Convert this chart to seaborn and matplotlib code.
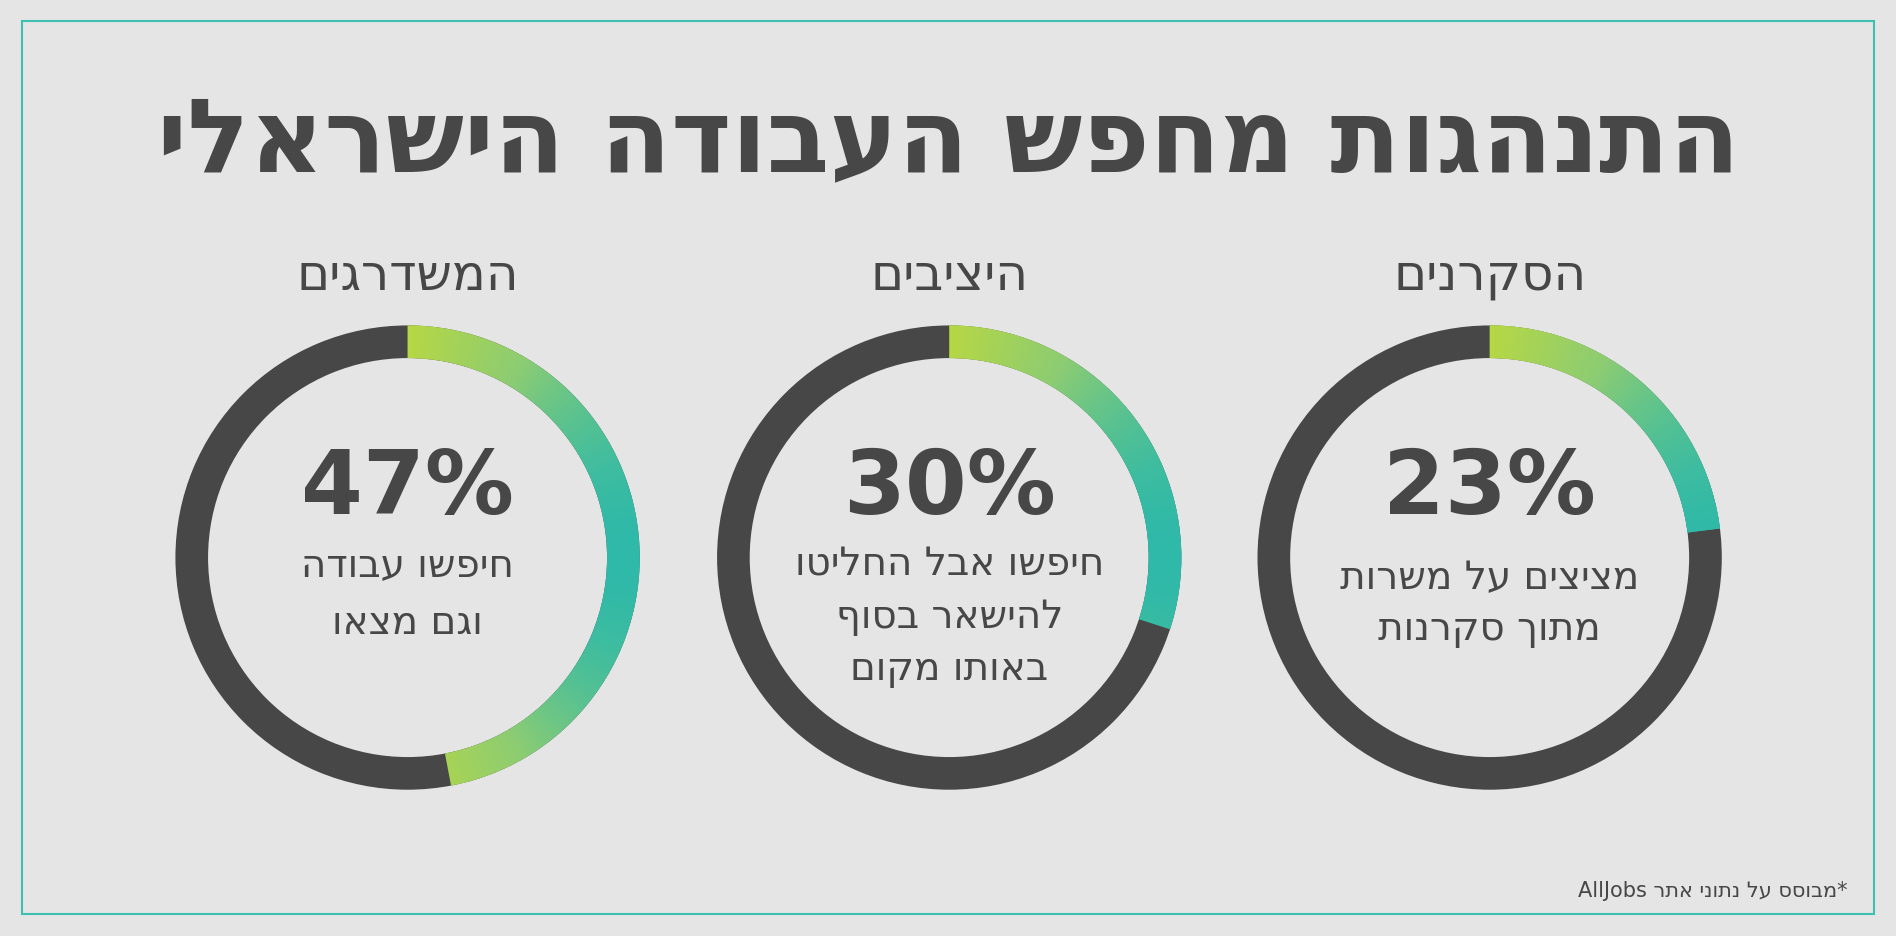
import matplotlib
matplotlib.use("Agg")
import matplotlib.pyplot as plt
import seaborn as sns
import numpy as np
from matplotlib.patches import Wedge, Rectangle
from matplotlib.colors import LinearSegmentedColormap

title = "התנהגות מחפש העבודה הישראלי"
groups = ["המשדרגים", "היציבים", "הסקרנים"]
values = [47, 30, 23]
descs = [["חיפשו עבודה", "וגם מצאו"],
         ["חיפשו אבל החליטו", "להישאר בסוף", "באותו מקום"],
         ["מציצים על משרות", "מתוך סקרנות"]]
footnote_he = "מבוסס על נתוני אתר"
footnote_en = "AllJobs"

def rtl(s):
    return s[::-1]

sns.set_theme(style="white")
plt.rcParams['font.family'] = ['DejaVu Sans']
BG = "#e5e5e5"; DARK = "#474747"
fig = plt.figure(figsize=(18.96, 9.37), dpi=100, facecolor=BG)
ax = fig.add_axes([0, 0, 1, 1])
ax.set_xlim(0, 1568); ax.set_ylim(775, 0); ax.set_aspect('equal'); ax.axis('off')
ax.set_facecolor(BG)
ax.add_patch(Rectangle((18, 18), 1532, 739, fill=False, ec="#3dbfb1", lw=1.5))

ax.text(784, 118, rtl(title), ha='center', va='center', fontsize=74, fontweight='heavy', color=DARK)
cmap = LinearSegmentedColormap.from_list("g", ["#b6d744", "#8dcc72", "#2fb9a8"])
centers = [337, 785, 1232]
cy = 462; R = 192; W = 27
for cx, g, v, d in zip(centers, groups, values, descs):
    ax.text(cx, 228, rtl(g), ha='center', va='center', fontsize=36, color=DARK)
    ax.add_patch(Wedge((cx, cy), R, 0, 360, width=W, color=DARK, lw=0))
    n = 200
    end = 360 * v / 100
    edges = np.linspace(0, end, n + 1)
    for a0, a1 in zip(edges[:-1], edges[1:]):
        am = np.radians((a0 + a1) / 2)
        t = np.sin(am)
        th1 = -90 + a0
        th2 = -90 + a1 + (0.4 if a1 < end else 0)
        ax.add_patch(Wedge((cx, cy), R, th1, th2, width=W, color=cmap(t), lw=0))
    ax.text(cx, 405, f"{v}%", ha='center', va='center', fontsize=64, fontweight='heavy', color=DARK)
    ys = [467, 515] if len(d) == 2 else [467, 510, 553]
    if cx == 1232:
        ys = [478, 520]
    for y, line in zip(ys, d):
        ax.text(cx, y, rtl(line), ha='center', va='center', fontsize=28, color=DARK)

ax.text(1528, 737, footnote_en + " " + rtl(footnote_he) + "*", ha='right', va='center', fontsize=15, color=DARK)
fig.savefig("out.png", dpi=100, facecolor=BG)
